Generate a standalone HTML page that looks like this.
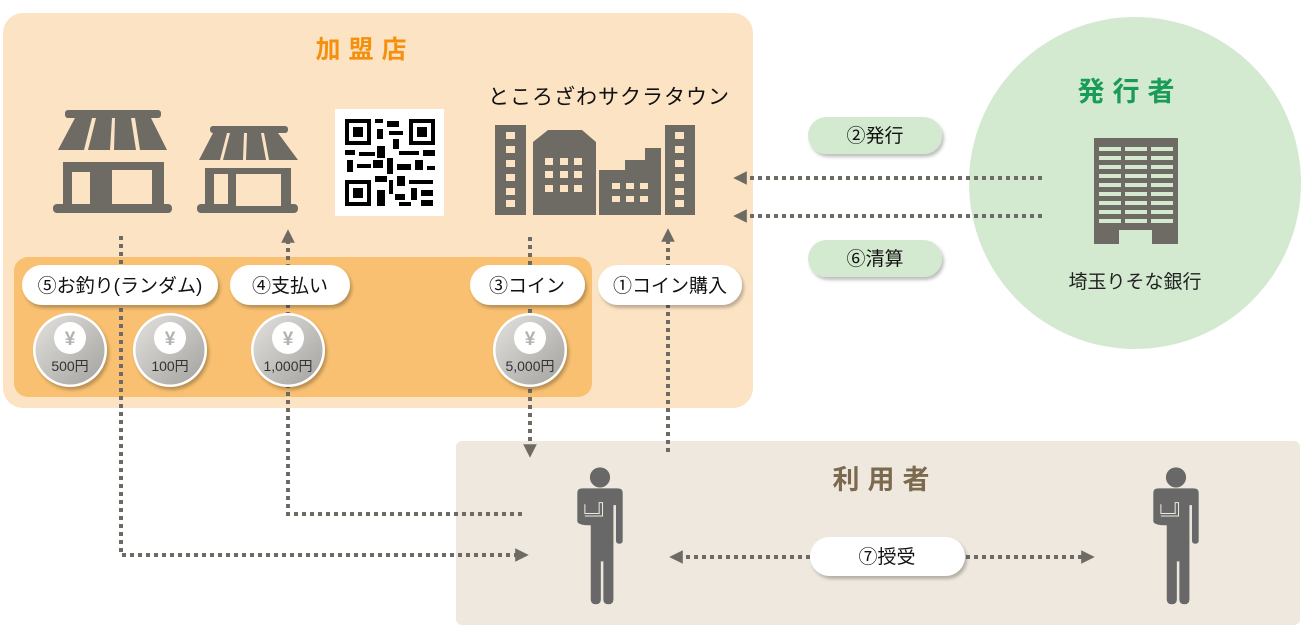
<!DOCTYPE html>
<html><head><meta charset="utf-8"><style>
html,body{margin:0;padding:0;background:#fff;}
svg{display:block;font-family:"Liberation Sans","Noto Sans CJK JP",sans-serif;}
</style></head><body>
<svg width="1306" height="637" viewBox="0 0 1306 637" xmlns="http://www.w3.org/2000/svg">
<defs>
<filter id="sh" x="-20%" y="-20%" width="140%" height="160%"><feDropShadow dx="2" dy="3" stdDeviation="1.5" flood-color="#000" flood-opacity="0.25"/></filter>
<linearGradient id="cg" x1="0" y1="0" x2="1" y2="1"><stop offset="0" stop-color="#e2e1dd"/><stop offset="1" stop-color="#a3a29e"/></linearGradient>
<marker id="ah" viewBox="0 0 10 10" refX="5" refY="5" markerWidth="3.4" markerHeight="3.4" orient="auto"><path d="M0,0 L10,5 L0,10 z" fill="#6d6b63"/></marker>
<g id="person">
<circle cx="0" cy="-115" r="12" fill="#696868"/>
<path d="M-27,-97 Q-27,-102 -21,-102 L21,-102 Q27,-102 27,-97 L27,-40 Q27,-36 23,-36 Q19,-36 19,-40 L19,-82 L16,-82 L16,-14 L16,-10 L16,30 Q16,36 10,36 Q4,36 4,30 L4,-15 L1,-15 L1,30 Q1,36 -5,36 Q-11,36 -11,30 L-11,-58 Q-27,-58 -27,-63 Z" fill="#696868"/>
<path d="M-18,-83 L-18,-72 L-1,-72 L-1,-85 L3,-85 L3,-69 L-18,-69" fill="none" stroke="#efe8df" stroke-width="1.2"/>
</g>
<g id="coin">
<circle r="37" fill="#fff" filter="url(#sh)"/>
<circle r="34.5" fill="url(#cg)"/>
<circle cx="0" cy="-12" r="16" fill="#fff"/>
<text x="0" y="-5" font-size="19" fill="#b3b2ae" text-anchor="middle" font-weight="bold">¥</text>
</g>
</defs>
<rect width="1306" height="637" fill="#fff"/>
<rect x="3" y="13" width="750" height="395" rx="20" fill="#fce3c3"/>
<rect x="14" y="257" width="578" height="140" rx="14" fill="#f8c070"/>
<circle cx="1135" cy="183" r="166" fill="#d3ead0"/>
<rect x="456" y="441" width="844" height="184" rx="6" fill="#efe8df"/>
<text x="365" y="58" font-size="25" fill="#f5900f" text-anchor="middle" letter-spacing="8" font-weight="bold">加盟店</text>
<text x="1130" y="101" font-size="27" fill="#1a9b57" text-anchor="middle" letter-spacing="8" font-weight="bold">発行者</text>
<text x="885" y="489" font-size="27" fill="#7c6a4e" text-anchor="middle" letter-spacing="8" font-weight="bold">利用者</text>
<text x="609" y="104" font-size="21" fill="#111" text-anchor="middle" letter-spacing="1">ところざわサクラタウン</text>
<text x="1135" y="288" font-size="19" fill="#222" text-anchor="middle">埼玉りそな銀行</text>
<g fill="#6d6b63">
<rect x="65" y="110" width="96" height="8" rx="3"/>
<path d="M58,150 L75,118 L92,118 L84,150 Z M88,150 L96,118 L112,118 L110,150 Z M114,150 L115,118 L131,118 L136,150 Z M140,150 L135,118 L151,118 L167,150 Z"/>
<rect x="63" y="162" width="101" height="44"/>
<rect x="53" y="204" width="119" height="9" rx="4"/>
<rect x="210" y="126" width="78" height="7" rx="3"/>
<path d="M199,160 L213,133 L227,133 L220,160 Z M223,160 L230,133 L244,133 L243,160 Z M246,160 L247,133 L261,133 L266,160 Z M269,160 L264,133 L278,133 L298,160 Z"/>
<rect x="205" y="168" width="86" height="38"/>
<rect x="197" y="204" width="101" height="9" rx="4"/>
</g>
<g fill="#fce3c3">
<rect x="112" y="170" width="40" height="34"/>
<rect x="236" y="174" width="45" height="32"/>
<rect x="72" y="172" width="18" height="32"/>
<rect x="214" y="174" width="14" height="30"/>
<path d="M58,150 Q64,158 70,150 Q76,158 82,150 Q88,158 94,150 Q100,158 106,150 Q112,158 118,150 Q124,158 130,150 Q136,158 142,150 Q148,158 154,150 Q160,158 167,150 L167,162 L58,162Z"/>
<path d="M199,160 Q204,167 209,160 Q214,167 219,160 Q224,167 229,160 Q234,167 239,160 Q244,167 249,160 Q254,167 259,160 Q264,167 269,160 Q274,167 279,160 Q284,167 289,160 Q294,167 298,160 L298,168 L199,168Z"/>
</g>
<rect x="335" y="109" width="109" height="107" fill="#fff"/>
<g fill="#000">
<rect x="345" y="119" width="26" height="26"/><rect x="409" y="119" width="26" height="26"/><rect x="345" y="180" width="26" height="26"/>
</g>
<g fill="#fff"><rect x="349" y="123" width="18" height="18"/><rect x="413" y="123" width="18" height="18"/><rect x="349" y="184" width="18" height="18"/></g>
<g fill="#000"><rect x="353" y="127" width="10" height="10"/><rect x="417" y="127" width="10" height="10"/><rect x="353" y="188" width="10" height="10"/>
<rect x="375" y="119" width="8" height="4"/><rect x="387" y="121" width="12" height="6"/><rect x="377" y="129" width="6" height="10"/><rect x="389" y="131" width="14" height="4"/><rect x="393" y="139" width="6" height="10"/>
<rect x="345" y="150" width="10" height="5"/><rect x="359" y="152" width="16" height="4"/><rect x="377" y="146" width="8" height="12"/><rect x="399" y="151" width="20" height="4"/><rect x="423" y="150" width="12" height="6"/>
<rect x="347" y="160" width="6" height="12"/><rect x="357" y="164" width="14" height="4"/><rect x="373" y="160" width="10" height="8"/><rect x="387" y="158" width="6" height="16"/><rect x="397" y="164" width="14" height="6"/><rect x="415" y="160" width="8" height="10"/><rect x="427" y="166" width="8" height="4"/>
<rect x="375" y="176" width="12" height="6"/><rect x="389" y="180" width="4" height="14"/><rect x="397" y="176" width="8" height="10"/><rect x="409" y="180" width="24" height="4"/><rect x="411" y="188" width="6" height="12"/><rect x="421" y="190" width="12" height="6"/>
<rect x="377" y="190" width="8" height="16"/><rect x="395" y="194" width="10" height="6"/><rect x="399" y="202" width="12" height="4"/><rect x="421" y="200" width="12" height="6"/>
</g>
<g fill="#6d6b63">
<rect x="495" y="125" width="31" height="90"/>
<path d="M533,215 L533,142 L548,130 L582,130 L596,142 L596,215 Z"/>
<rect x="599" y="170" width="62" height="45"/>
<rect x="625" y="160" width="20" height="12"/>
<rect x="645" y="148" width="16" height="24"/>
<rect x="665" y="125" width="30" height="90"/>
</g>
<g fill="#fce3c3">
<rect x="506" y="132" width="9" height="7"/><rect x="506" y="146" width="9" height="7"/><rect x="506" y="160" width="9" height="7"/><rect x="506" y="174" width="9" height="7"/><rect x="506" y="188" width="9" height="7"/><rect x="506" y="200" width="9" height="7"/>
<rect x="675" y="132" width="9" height="7"/><rect x="675" y="146" width="9" height="7"/><rect x="675" y="160" width="9" height="7"/><rect x="675" y="174" width="9" height="7"/><rect x="675" y="188" width="9" height="7"/><rect x="675" y="200" width="9" height="7"/>
<rect x="545" y="158" width="8" height="7"/><rect x="560" y="158" width="8" height="7"/><rect x="574" y="158" width="8" height="7"/>
<rect x="545" y="171" width="8" height="7"/><rect x="560" y="171" width="8" height="7"/><rect x="574" y="171" width="8" height="7"/>
<rect x="545" y="185" width="8" height="7"/><rect x="560" y="185" width="8" height="7"/><rect x="574" y="185" width="8" height="7"/>
<rect x="612" y="183" width="8" height="6"/><rect x="626" y="183" width="8" height="6"/><rect x="640" y="183" width="8" height="6"/>
<rect x="612" y="196" width="8" height="6"/><rect x="626" y="196" width="8" height="6"/><rect x="640" y="196" width="8" height="6"/>
</g>
<rect x="1094" y="138" width="84" height="106" fill="#6d6b63"/>
<rect x="1119" y="230" width="33" height="14" fill="#d3ead0"/>
<g fill="#d3ead0">
<g id="row"><rect x="1099" y="147" width="22" height="4"/><rect x="1125" y="147" width="22" height="4"/><rect x="1151" y="147" width="22" height="4"/></g>
<use href="#row" y="9"/><use href="#row" y="18"/><use href="#row" y="27"/><use href="#row" y="36"/><use href="#row" y="45"/><use href="#row" y="54"/><use href="#row" y="63"/><use href="#row" y="72"/>
</g>
<g stroke="#6d6b63" stroke-width="4" stroke-dasharray="4,4" fill="none">
<polyline points="121,236 121,555 522,555" marker-end="url(#ah)"/>
<polyline points="522,514 288,514 288,236" marker-end="url(#ah)"/>
<line x1="530" y1="237" x2="530" y2="451" marker-end="url(#ah)"/>
<line x1="668" y1="452" x2="668" y2="235" marker-end="url(#ah)"/>
<line x1="1042" y1="178" x2="740" y2="178" marker-end="url(#ah)"/>
<line x1="1042" y1="216" x2="740" y2="216" marker-end="url(#ah)"/>
<line x1="810" y1="557" x2="676" y2="557" marker-end="url(#ah)"/>
<line x1="966" y1="557" x2="1088" y2="557" marker-end="url(#ah)"/>
</g>
<g filter="url(#sh)">
<rect x="808" y="117" width="134" height="37" rx="18.5" fill="#d3ead0"/>
<rect x="808" y="240" width="134" height="37" rx="18.5" fill="#d3ead0"/>
<rect x="22" y="265" width="196" height="40" rx="20" fill="#fff"/>
<rect x="230" y="265" width="120" height="40" rx="20" fill="#fff"/>
<rect x="470" y="265" width="115" height="40" rx="20" fill="#fff"/>
<rect x="598" y="265" width="144" height="40" rx="20" fill="#fff"/>
<rect x="810" y="537" width="155" height="39" rx="19.5" fill="#fff"/>
</g>
<g font-size="19" fill="#111" text-anchor="middle">
<text x="875" y="142">②発行</text>
<text x="875" y="265">⑥清算</text>
<text x="120" y="292">⑤お釣り(ランダム)</text>
<text x="290" y="292">④支払い</text>
<text x="527" y="292">③コイン</text>
<text x="670" y="292">①コイン購入</text>
<text x="887" y="563">⑦授受</text>
</g>
<use href="#coin" x="70" y="350"/><use href="#coin" x="170" y="350"/><use href="#coin" x="288" y="350"/><use href="#coin" x="530" y="350"/>
<g font-size="14" fill="#333" text-anchor="middle">
<text x="70" y="371">500円</text><text x="170" y="371">100円</text><text x="288" y="371">1,000円</text><text x="530" y="371">5,000円</text>
</g>
<g transform="translate(600,574) scale(0.84)"><use href="#person"/></g>
<g transform="translate(1176,574) scale(0.84)"><use href="#person"/></g>
</svg>
</body></html>
